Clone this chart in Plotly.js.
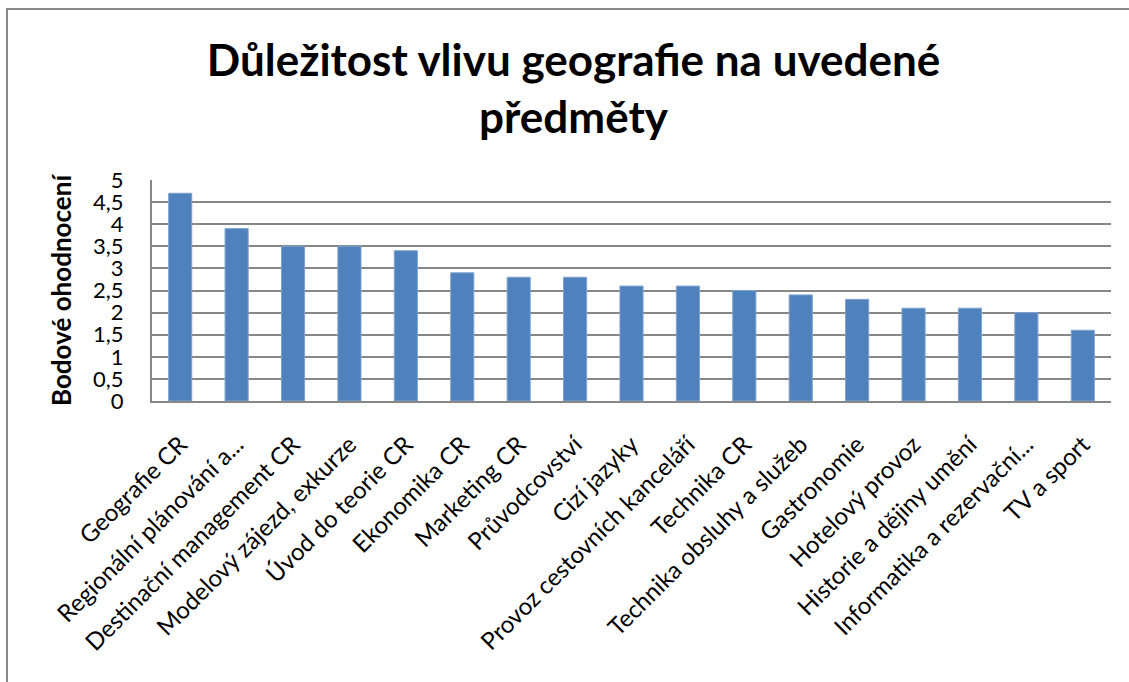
<!DOCTYPE html>
<html>
<head>
<meta charset="utf-8">
<script src="https://cdn.plot.ly/plotly-3.0.1.min.js"></script>
<style>
html,body{margin:0;padding:0;background:#fff;}
#chart{position:absolute;left:0;top:0;width:1129px;height:682px;}
#frame{position:absolute;left:6px;top:8px;width:1140px;height:700px;border-left:2px solid #898989;border-top:2px solid #898989;pointer-events:none;}
</style>
</head>
<body>
<div id="chart"></div>
<div id="frame"></div>
<script>
const categories = [
  "Geografie CR",
  "Regionální plánování a...",
  "Destinační management CR",
  "Modelový zájezd, exkurze",
  "Úvod do teorie CR",
  "Ekonomika CR",
  "Marketing CR",
  "Průvodcovství",
  "Cizí jazyky",
  "Provoz cestovních kanceláří",
  "Technika CR",
  "Technika obsluhy a služeb",
  "Gastronomie",
  "Hotelový provoz",
  "Historie a dějiny umění",
  "Informatika a rezervační...",
  "TV a sport"
];
const scores = [4.7, 3.9, 3.5, 3.5, 3.4, 2.9, 2.8, 2.8, 2.6, 2.6, 2.5, 2.4, 2.3, 2.1, 2.1, 2.0, 1.6];
const yTickValues = [0, 0.5, 1, 1.5, 2, 2.5, 3, 3.5, 4, 4.5, 5];
const yTickLabels = ["0", "0,5", "1", "1,5", "2", "2,5", "3", "3,5", "4", "4,5", "5"];

const FONT = "Lato, 'Open Sans', sans-serif";

const data = [{
  type: 'bar',
  x: categories,
  y: scores,
  marker: {color: '#4F81BD', line: {color: '#7FA3CF', width: 1}},
  hoverinfo: 'x+y'
}];

const layout = {
  width: 1129,
  height: 682,
  paper_bgcolor: '#ffffff',
  plot_bgcolor: '#ffffff',
  margin: {l: 152, r: 18, t: 180, b: 281, pad: 0},
  bargap: 0.59,
  showlegend: false,
  separators: ', ',
  font: {family: FONT, color: '#000'},
  title: {
    text: 'Důležitost vlivu geografie na uvedené<br>předměty',
    font: {family: FONT, size: 44, color: '#000', weight: 'bold'},
    x: 0.508, xref: 'container', xanchor: 'center',
    y: 0.889, yref: 'container', yanchor: 'top'
  },
  xaxis: {
    type: 'category',
    tickangle: -45,
    tickfont: {family: FONT, size: 24, color: '#000'},
    showgrid: false,
    showline: true,
    linecolor: '#878787',
    linewidth: 2,
    ticks: '',
    ticklabelstandoff: 18,
    automargin: false
  },
  yaxis: {
    range: [0, 5],
    tickvals: yTickValues,
    ticktext: yTickLabels,
    tickfont: {family: FONT, size: 22, color: '#000'},
    showgrid: true,
    gridcolor: '#878787',
    gridwidth: 2,
    showline: true,
    linecolor: '#878787',
    linewidth: 2,
    zeroline: false,
    ticks: '',
    ticklabelstandoff: 22,
    mirror: false,
    automargin: false,
    title: {
      text: 'Bodové ohodnocení',
      font: {family: FONT, size: 26, color: '#000', weight: 'bold'},
      standoff: 14
    }
  }
};

Plotly.newPlot('chart', data, layout, {displayModeBar: false, staticPlot: true});
</script>
</body>
</html>
